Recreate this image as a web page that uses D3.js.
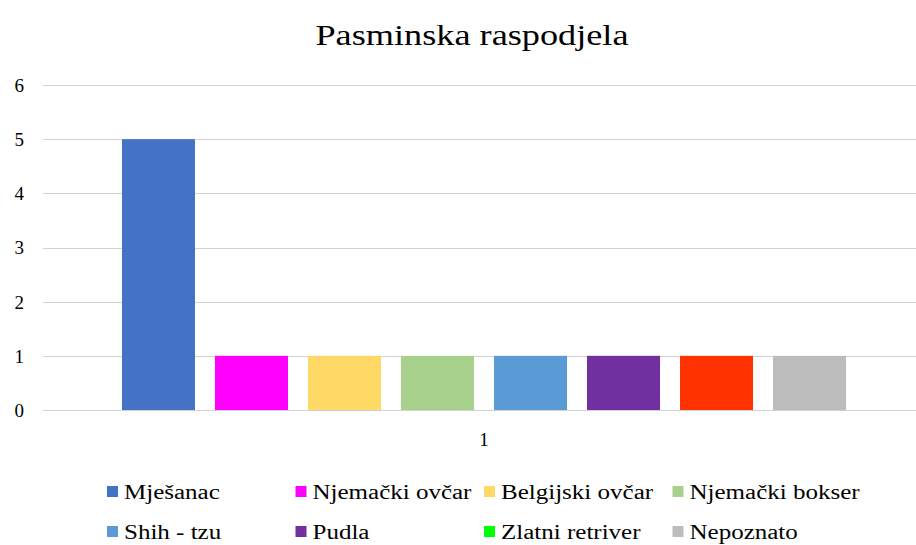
<!DOCTYPE html>
<html>
<head>
<meta charset="utf-8">
<script src="https://cdn.jsdelivr.net/npm/d3@7"></script>
<style>
    body { margin: 0; background: #fff; }
    text { font-family: "Liberation Serif", "Times New Roman", serif; fill: #000; }
</style>
</head>
<body>
<div id="chart"></div>
<script>
// data
const categories = ["1"];
const series = ["Mješanac", "Njemački ovčar", "Belgijski ovčar", "Njemački bokser",
                "Shih - tzu", "Pudla", "Zlatni retriver", "Nepoznato"];
const values = [5, 1, 1, 1, 1, 1, 1, 1];
const barColors = ["#4472C4", "#FF00FF", "#FFD966", "#A9D18E",
                   "#5B9BD5", "#7030A0", "#FF3300", "#BCBCBC"];
// the legend swatch for "Zlatni retriver" is green in the original, unlike its bar
const legendColors = ["#4472C4", "#FF00FF", "#FFD966", "#A9D18E",
                      "#5B9BD5", "#7030A0", "#00FF00", "#BCBCBC"];
const yTicks = [0, 1, 2, 3, 4, 5, 6];

const width = 916, height = 545;
const stretch = 1.25; // the reference text is drawn wider than the font

const svg = d3.select("#chart").append("svg")
    .attr("width", width)
    .attr("height", height);

// stretch a text horizontally around its anchor
function widen(sel) {
    sel.each(function() {
        let len = this.getComputedTextLength();
        d3.select(this)
            .attr("textLength", len * stretch)
            .attr("lengthAdjust", "spacingAndGlyphs");
    });
}

let plot = { left: 43, right: 925, top: 85, bottom: 410 };

let x0 = d3.scaleBand()
    .domain(categories)
    .range([plot.left, plot.right])
    .paddingOuter(0.0927);

let x1 = d3.scaleBand()
    .domain(series)
    .range([0, x0.bandwidth()])
    .paddingInner(0.215)
    .paddingOuter(0.1075);

let y = d3.scaleLinear()
    .domain([0, 6])
    .range([plot.bottom, plot.top]);

// gridlines
svg.append("g")
    .selectAll("line")
    .data(yTicks)
    .enter().append("line")
    .attr("x1", plot.left)
    .attr("x2", width)
    .attr("y1", d => Math.round(y(d)) + 0.5)
    .attr("y2", d => Math.round(y(d)) + 0.5)
    .attr("stroke", "#D2D2D2")
    .attr("stroke-width", 1);

// y tick labels
let yAxis = d3.axisLeft(y)
    .tickValues(yTicks)
    .tickFormat(d3.format("d"))
    .tickSize(0)
    .tickPadding(0);
let yg = svg.append("g")
    .attr("transform", "translate(24,0)")
    .call(yAxis);
yg.select(".domain").remove();
yg.selectAll("text")
    .style("font-family", "'Liberation Serif', serif")
    .style("font-size", "19px")
    .attr("dy", "0.34em");

// bars
svg.append("g")
    .selectAll("rect")
    .data(values)
    .enter().append("rect")
    .attr("x", (d, i) => x0(categories[0]) + x1(series[i]))
    .attr("y", d => y(d))
    .attr("width", x1.bandwidth())
    .attr("height", d => y(0) - y(d))
    .attr("fill", (d, i) => barColors[i]);

// x category label
let xAxis = d3.axisBottom(x0).tickSize(0).tickPadding(0);
let xg = svg.append("g")
    .attr("transform", "translate(0,446)")
    .call(xAxis);
xg.select(".domain").remove();
xg.selectAll("text")
    .style("font-family", "'Liberation Serif', serif")
    .style("font-size", "19px")
    .attr("dy", 0);

// title
svg.append("text")
    .attr("x", 472)
    .attr("y", 45)
    .attr("text-anchor", "middle")
    .style("font-size", "29px")
    .text("Pasminska  raspodjela")
    .call(widen);

// legend, 4 columns x 2 rows
let legend = svg.append("g")
    .selectAll("g")
    .data(series)
    .enter().append("g")
    .attr("transform", (d, i) => "translate(" + (107 + (i % 4) * 188.5) + "," + (492 + Math.floor(i / 4) * 40) + ")");

legend.append("rect")
    .attr("x", 0)
    .attr("y", -6)
    .attr("width", 11)
    .attr("height", 11)
    .attr("fill", (d, i) => legendColors[i]);

legend.append("text")
    .attr("x", 17)
    .attr("y", 7)
    .style("font-size", "20px")
    .text(d => d)
    .call(widen);
</script>
</body>
</html>
